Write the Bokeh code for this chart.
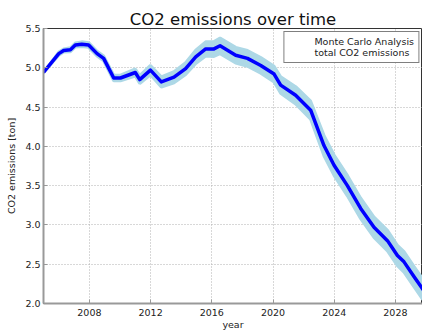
from bokeh.plotting import figure
from bokeh.models import Range1d, Label, Legend, LegendItem, ColumnDataSource, FixedTicker, PrintfTickFormatter
from bokeh.embed import file_html
from bokeh.resources import INLINE
try:
    from bokeh.models import HTMLLabel as OffsetLabel
except ImportError:
    OffsetLabel = Label

# --- data (emissions in units of 1e7 ton) ---
years = [2005.0, 2006.0, 2006.32, 2006.76, 2007.08, 2007.5, 2007.95, 2008.5, 2008.93, 2009.59,
         2010.03, 2011.0, 2011.29, 2011.99, 2012.7, 2013.53, 2014.29, 2014.95, 2015.6, 2016.14,
         2016.54, 2017.56, 2018.33, 2019.2, 2020.07, 2020.5, 2021.48, 2022.46, 2023.33, 2023.99,
         2024.86, 2025.73, 2026.6, 2027.48, 2028.13, 2028.56, 2029.22, 2029.76, 2030.0]
emissions = [4.94, 5.18, 5.22, 5.23, 5.29, 5.30, 5.29, 5.18, 5.12, 4.87,
             4.87, 4.94, 4.85, 4.97, 4.82, 4.88, 4.99, 5.14, 5.24, 5.24,
             5.28, 5.16, 5.12, 5.03, 4.92, 4.78, 4.65, 4.46, 4.01, 3.76,
             3.50, 3.21, 2.97, 2.80, 2.61, 2.53, 2.34, 2.19, 2.13]
mc_spread = [0.0, 0.02, 0.02, 0.025, 0.025, 0.03, 0.03, 0.03, 0.03, 0.035,
             0.035, 0.045, 0.05, 0.06, 0.065, 0.07, 0.075, 0.085, 0.09, 0.095,
             0.1, 0.1, 0.1, 0.1, 0.1, 0.105, 0.11, 0.115, 0.13, 0.13,
             0.13, 0.13, 0.13, 0.13, 0.13, 0.13, 0.13, 0.13, 0.13]
x_ticks = [2008, 2012, 2016, 2020, 2024, 2028]
y_ticks = [2.0, 2.5, 3.0, 3.5, 4.0, 4.5, 5.0, 5.5]

lower = [e - s for e, s in zip(emissions, mc_spread)]
upper = [e + s for e, s in zip(emissions, mc_spread)]
src = ColumnDataSource(dict(year=years, emis=emissions, lo=lower, hi=upper))

FONT = "DejaVu Sans"

p = figure(width=422, height=332, output_backend="svg", toolbar_location=None,
           x_range=Range1d(2005, 2029.77), y_range=Range1d(2.0, 5.5),
           min_border_left=43, min_border_right=0, min_border_top=28, min_border_bottom=29,
           title="CO2 emissions over time")
p.title.align = "center"
p.title.text_font = FONT
p.title.text_font_size = "16.5px"
p.title.text_font_style = "normal"
p.title.text_color = "#111111"
p.title.standoff = 0
p.title.offset = 0

p.varea(x="year", y1="lo", y2="hi", source=src, fill_color="#add8e6", fill_alpha=1.0)
p.line(x="year", y="hi", source=src, line_color="#add8e6", line_width=3)
p.line(x="year", y="lo", source=src, line_color="#add8e6", line_width=3)
p.line(x="year", y="emis", source=src, line_color="#0000ff", line_width=3.5, line_join="round")

# legend proxies
empty = ColumnDataSource(dict(x=[], y=[]))
r_mc = p.line(x="x", y="y", source=empty, line_color="#add8e6", line_width=2.5, line_dash="2 11")
r_tot = p.line(x="x", y="y", source=empty, line_color="#0000ff", line_width=2.5, line_dash="2 11")
legend = Legend(items=[LegendItem(label="Monte Carlo Analysis", renderers=[r_mc]),
                       LegendItem(label="total CO2 emissions", renderers=[r_tot])],
                location="top_right", margin=3, padding=4, spacing=0,
                glyph_width=20, glyph_height=11, label_height=11, label_standoff=6,
                label_text_font=FONT, label_text_font_size="9.5px", label_text_color="#222222",
                border_line_color="#000000", border_line_width=1, background_fill_alpha=1.0)
p.add_layout(legend)

# axes
p.xaxis.ticker = FixedTicker(ticks=x_ticks)
p.yaxis.ticker = FixedTicker(ticks=y_ticks)
p.yaxis.formatter = PrintfTickFormatter(format="%.1f")
for ax in (p.xaxis[0], p.yaxis[0]):
    ax.major_tick_in = 4
    ax.major_tick_out = 0
    ax.minor_tick_line_color = None
    ax.major_tick_line_color = "#999999"
    ax.axis_line_color = "#999999"
    ax.axis_line_width = 2
    ax.major_label_text_font = FONT
    ax.major_label_text_font_size = "9.5px"
    ax.major_label_text_color = "#222222"
    ax.axis_label_text_font = FONT
    ax.axis_label_text_font_size = "9.5px"
    ax.axis_label_text_font_style = "normal"
    ax.axis_label_text_color = "#222222"
p.xaxis.axis_label = "year"
p.yaxis.axis_label = "CO2 emissions [ton]"
p.xaxis.major_label_standoff = 5
p.xaxis.axis_label_standoff = 0
p.yaxis.major_label_standoff = 3
p.yaxis.axis_label_standoff = 5

p.grid.grid_line_color = "#b0b0b0"
p.grid.grid_line_dash = "1 2"
p.grid.grid_line_width = 1
p.outline_line_color = "#333333"
p.outline_line_width = 1

# offset text (scale factor) just above the top-left corner of the axes
p.add_layout(OffsetLabel(x=p.x_range.start, y=p.y_range.end, y_offset=1,
                         text="1e7", text_align="left", text_baseline="bottom", text_font=FONT,
                         text_font_size="8px", text_color="#222222"))

open("out.html", "w").write(file_html(p, INLINE))
